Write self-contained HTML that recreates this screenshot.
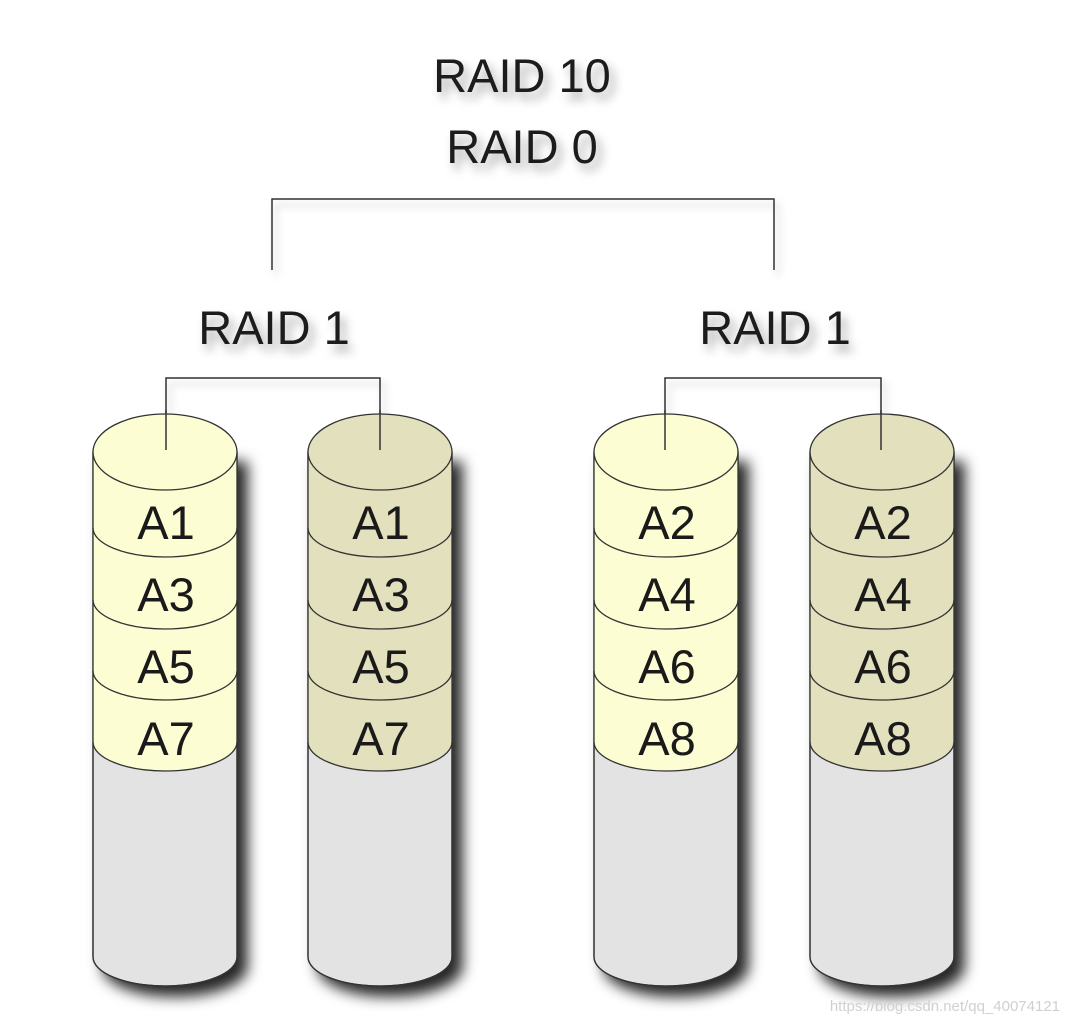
<!DOCTYPE html>
<html><head><meta charset="utf-8"><style>
html,body{margin:0;padding:0;background:#fff;}
svg{display:block;}
text{font-family:"Liberation Sans",Arial,sans-serif;}
</style></head><body>
<svg width="1068" height="1024" viewBox="0 0 1068 1024" xmlns="http://www.w3.org/2000/svg">
<defs>
<filter id="sh" x="-20%" y="-10%" width="160%" height="130%">
<feDropShadow dx="10" dy="10" stdDeviation="7" flood-color="#000" flood-opacity="0.85"/>
</filter>
<filter id="ts" x="-20%" y="-40%" width="140%" height="200%">
<feDropShadow dx="5" dy="7" stdDeviation="5" flood-color="#000" flood-opacity="0.35"/>
</filter>
<filter id="ls" x="-10%" y="-30%" width="120%" height="200%">
<feDropShadow dx="4" dy="6" stdDeviation="4" flood-color="#000" flood-opacity="0.25"/>
</filter>
</defs>

<g fill="none" stroke="#333" stroke-width="1.5" filter="url(#ls)">
<path d="M272,270 V199 H774 V270"/>
<path d="M166,450 V378 H380 V450"/>
<path d="M665,450 V378 H881 V450"/>
</g>

<g font-size="47" fill="#1a1a1a" text-anchor="middle" filter="url(#ts)">
<text x="522" y="92">RAID 10</text>
<text x="522" y="163">RAID 0</text>
<text x="274" y="344">RAID 1</text>
<text x="775" y="344">RAID 1</text>
</g>

<g stroke="#333" stroke-width="1.3">
<g>
<path filter="url(#sh)" d="M93,452 V957 A72,29 0 0 0 237,957 V452 Z" fill="#e3e3e3"/>
<path d="M93,452 V742 A72,29 0 0 0 237,742 V452 Z" fill="#fdfdd3" stroke="none"/>
<path d="M93,452 V957 A72,29 0 0 0 237,957 V452" fill="none"/>
<path d="M93,528 A72,29 0 0 0 237,528 M93,600 A72,29 0 0 0 237,600 M93,671 A72,29 0 0 0 237,671 M93,742 A72,29 0 0 0 237,742" fill="none"/>
<ellipse cx="165" cy="452" rx="72" ry="38" fill="#fdfdd3"/>
</g>
<g>
<path filter="url(#sh)" d="M308,452 V957 A72,29 0 0 0 452,957 V452 Z" fill="#e3e3e3"/>
<path d="M308,452 V742 A72,29 0 0 0 452,742 V452 Z" fill="#e3e1bd" stroke="none"/>
<path d="M308,452 V957 A72,29 0 0 0 452,957 V452" fill="none"/>
<path d="M308,528 A72,29 0 0 0 452,528 M308,600 A72,29 0 0 0 452,600 M308,671 A72,29 0 0 0 452,671 M308,742 A72,29 0 0 0 452,742" fill="none"/>
<ellipse cx="380" cy="452" rx="72" ry="38" fill="#e3e1bd"/>
</g>
<g>
<path filter="url(#sh)" d="M594,452 V957 A72,29 0 0 0 738,957 V452 Z" fill="#e3e3e3"/>
<path d="M594,452 V742 A72,29 0 0 0 738,742 V452 Z" fill="#fdfdd3" stroke="none"/>
<path d="M594,452 V957 A72,29 0 0 0 738,957 V452" fill="none"/>
<path d="M594,528 A72,29 0 0 0 738,528 M594,600 A72,29 0 0 0 738,600 M594,671 A72,29 0 0 0 738,671 M594,742 A72,29 0 0 0 738,742" fill="none"/>
<ellipse cx="666" cy="452" rx="72" ry="38" fill="#fdfdd3"/>
</g>
<g>
<path filter="url(#sh)" d="M810,452 V957 A72,29 0 0 0 954,957 V452 Z" fill="#e3e3e3"/>
<path d="M810,452 V742 A72,29 0 0 0 954,742 V452 Z" fill="#e3e1bd" stroke="none"/>
<path d="M810,452 V957 A72,29 0 0 0 954,957 V452" fill="none"/>
<path d="M810,528 A72,29 0 0 0 954,528 M810,600 A72,29 0 0 0 954,600 M810,671 A72,29 0 0 0 954,671 M810,742 A72,29 0 0 0 954,742" fill="none"/>
<ellipse cx="882" cy="452" rx="72" ry="38" fill="#e3e1bd"/>
</g>
</g>

<g stroke="#333" stroke-width="1.5">
<line x1="166" y1="410" x2="166" y2="450"/>
<line x1="380" y1="410" x2="380" y2="450"/>
<line x1="665" y1="410" x2="665" y2="450"/>
<line x1="881" y1="410" x2="881" y2="450"/>
</g>

<g font-size="47" fill="#1a1a1a" text-anchor="middle">
<text x="166" y="539">A1</text><text x="166" y="611">A3</text><text x="166" y="683">A5</text><text x="166" y="755">A7</text>
<text x="381" y="539">A1</text><text x="381" y="611">A3</text><text x="381" y="683">A5</text><text x="381" y="755">A7</text>
<text x="667" y="539">A2</text><text x="667" y="611">A4</text><text x="667" y="683">A6</text><text x="667" y="755">A8</text>
<text x="883" y="539">A2</text><text x="883" y="611">A4</text><text x="883" y="683">A6</text><text x="883" y="755">A8</text>
</g>

<text x="1060" y="1011" font-size="15" fill="#d0d0d0" text-anchor="end">https://blog.csdn.net/qq_40074121</text>
</svg>
</body></html>
